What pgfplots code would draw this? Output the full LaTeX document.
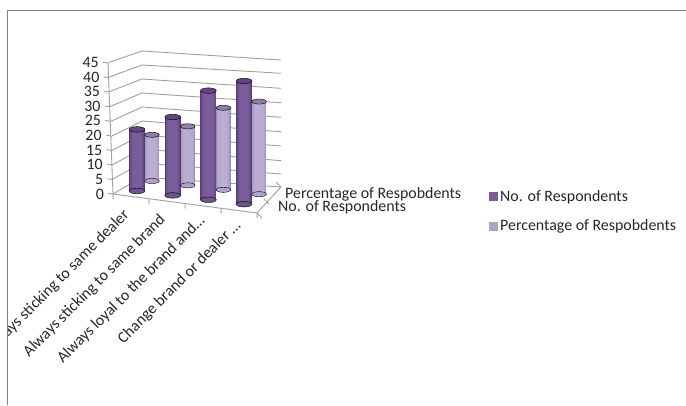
\documentclass[border=0pt]{standalone}
\usepackage{fontspec}
\setmainfont{Carlito}
\usepackage{pgfplots}
\pgfplotsset{compat=1.18}
\definecolor{gridc}{HTML}{A0A0A0}
\definecolor{framec}{HTML}{808080}
\definecolor{inkc}{HTML}{262626}
\definecolor{darkedge}{HTML}{523D74}
\definecolor{darkmid}{HTML}{7A5C9B}
\definecolor{darktop}{HTML}{5E4780}
\definecolor{lightedge}{HTML}{9C8BB8}
\definecolor{lightmid}{HTML}{BBADD2}
\definecolor{lighttop}{HTML}{8F7EAC}
\definecolor{keydark}{HTML}{7A5C98}
\definecolor{keylight}{HTML}{B3A2C7}
\newcommand\labelfont{\fontsize{15.9}{17}\selectfont}

% One stripe of a column: category, series, value, width, colour
\newcommand\stripe[5]{\addplot3[line width=#4pt,color=#5,forget plot] coordinates {(#1,#2,0) (#1,#2,#3)};}
% End disc of a column: category, series, height, radius, colour
\newcommand\disc[5]{\addplot3[only marks,mark=*,mark size=#4pt,mark options={yscale=.35,draw=none,fill=#5},forget plot] coordinates {(#1,#2,#3)};}
% Front-row column: category, value
\newcommand\frontcolumn[2]{%
  \disc{#1}{1}{0}{7.9}{darkmid!70!darkedge}
  \stripe{#1}{1}{#2}{15.8}{darkedge}
  \stripe{#1}{1}{#2}{14.4}{darkmid!40!darkedge}
  \stripe{#1}{1}{#2}{12.8}{darkmid!70!darkedge}
  \stripe{#1}{1}{#2}{10.8}{darkmid!88!darkedge}
  \stripe{#1}{1}{#2}{8.2}{darkmid}
  \disc{#1}{1}{#2}{7.9}{darktop}
}
% Back-row column: category, value
\newcommand\backcolumn[2]{%
  \disc{#1}{2}{0}{7.3}{lightmid!70!lightedge}
  \stripe{#1}{2}{#2}{14.6}{lightedge}
  \stripe{#1}{2}{#2}{13.2}{lightmid!40!lightedge}
  \stripe{#1}{2}{#2}{11.8}{lightmid!70!lightedge}
  \stripe{#1}{2}{#2}{10}{lightmid!88!lightedge}
  \stripe{#1}{2}{#2}{7.6}{lightmid}
  \disc{#1}{2}{#2}{7.3}{lighttop}
}

\begin{document}
\begin{tikzpicture}[x=1pt,y=1pt]
% Walls, depth axis and legend, laid out in image units
\begin{axis}[
  at={(0pt,0pt)},anchor=south west,scale only axis,width=686pt,height=405pt,
  xmin=0,xmax=686,ymin=0,ymax=405,y dir=reverse,hide axis,clip=false,
  unbounded coords=jump,
  legend style={at={(.7128,.5296)},anchor=north west,draw=none,fill=none,
    font=\labelfont\color{inkc},row sep=16.5pt,
    inner sep=0pt,nodes={inner sep=0pt,anchor=west},
    /tikz/every odd column/.append style={column sep=3pt}},
  legend cell align=left]
\addlegendimage{only marks,mark=square*,mark size=4pt,mark options={solid,draw=keydark,fill=keydark,line width=0pt}}
\addlegendentry{No. of Respondents}
\addlegendimage{only marks,mark=square*,mark size=4pt,mark options={solid,draw=keylight,fill=keylight,line width=0pt}}
\addlegendentry{Percentage of Respobdents}
\addplot[gridc,line width=.9pt] coordinates {
  (113,194) (142,177) (281,187) (nan,nan)
  (112.4,179.3) (142,163) (281,174) (nan,nan)
  (111.9,165) (142,149) (281,160.7) (nan,nan)
  (111.3,150.7) (142,135) (281,146) (nan,nan)
  (110.8,136.7) (142,121) (281,131.7) (nan,nan)
  (110.2,121.7) (142,107) (281,117.3) (nan,nan)
  (109.7,106.7) (142,93) (281,102.7) (nan,nan)
  (109.1,91.7) (142,79) (281,88.3) (nan,nan)
  (108.6,77.3) (142,65) (281,73.3) (nan,nan)
  (108,62.7) (142,51) (281,60) (nan,nan)
};
\addplot[gridc,line width=.9pt] coordinates {(257,213) (281,187) (nan,nan) (262,218) (257,213) (nan,nan) (269,204) (264,199) (nan,nan) (281,187) (276,182)};
\node[anchor=west,inner sep=0pt,font=\labelfont,text=inkc] at (285,194) {Percentage of Respobdents};
\node[anchor=west,inner sep=0pt,font=\labelfont,text=inkc] at (278,207) {No. of Respondents};
\end{axis}
% Value axis and category axis on the front edges
\begin{axis}[
  at={(113pt,211pt)},anchor=origin,
  x={(36pt,-4.75pt)},y={(-.111pt,2.911pt)},
  xmin=0,xmax=4,ymin=0,ymax=45,
  axis lines*=left,axis line style={gridc,line width=.9pt,-},
  tick style={gridc,line width=.9pt},
  tick align=outside,major tick length=5pt,minor tick length=5pt,
  ytick={0,5,...,45},
  xtick={.5,1.5,2.5,3.5},minor xtick={0,1,2,3,4},
  x tick style={draw=none},
  minor x tick style={draw=gridc,line width=.9pt},
  xticklabels={Always sticking to same dealer,Always sticking to same brand,Always loyal to the brand and\dots\hspace*{-5pt},Change brand or dealer \dots\hspace*{-5pt}},
  xticklabel style={rotate=45,anchor=east,inner sep=0pt,xshift=-11pt,yshift=-5pt},
  tick label style={font=\labelfont,text=inkc},
  yticklabel style={/pgf/number format/assume math mode=true,inner sep=1pt,xshift=-3pt,yshift=-1.5pt},
  clip=false]
\addplot[draw=none,forget plot] coordinates {(0,0) (4,45)};
\end{axis}
% Columns: category, value
\begin{axis}[
  at={(86.3pt,208.4pt)},anchor=origin,
  x={(35.7pt,-4.4pt)},y={(15pt,10pt)},z={(0pt,2.8pt)},
  xmin=0,xmax=5,ymin=0,ymax=3,zmin=0,zmax=45,hide axis,clip=false]
\backcolumn{1}{16.5}
\frontcolumn{1}{22}
\backcolumn{2}{21.1}
\frontcolumn{2}{28}
\backcolumn{3}{29.3}
\frontcolumn{3}{39}
\backcolumn{4}{33.1}
\frontcolumn{4}{44}
\end{axis}
% Outer frame; text running past its left side is cut off
\fill[white] (-60pt,-60pt) rectangle (7.5pt,405pt);
\draw[framec,line width=1pt] (7.5pt,0pt) -- (7.5pt,394pt) -- (686pt,394pt);
\pgfresetboundingbox
\path[use as bounding box] (0pt,0pt) rectangle (686pt,405pt);
\end{tikzpicture}
\end{document}
